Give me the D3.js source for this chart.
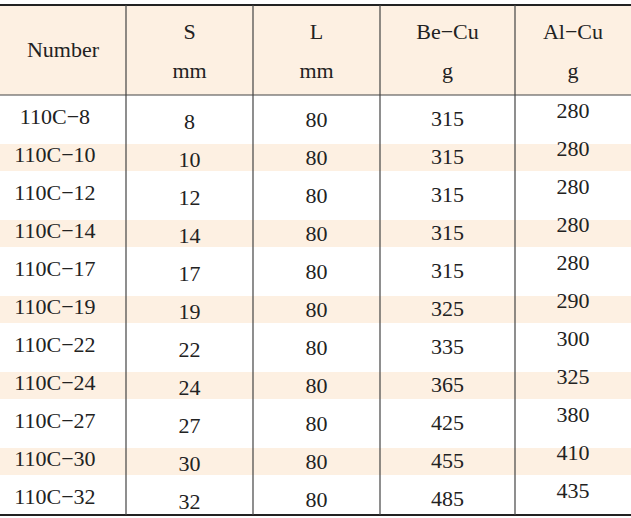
<!DOCTYPE html>
<html><head><meta charset="utf-8">
<script src="https://cdn.jsdelivr.net/npm/d3@7"></script>
<style>body{margin:0;background:#fff}</style></head>
<body><svg id="t"></svg>
<script>
const numbers = ["110C−8","110C−10","110C−12","110C−14","110C−17","110C−19","110C−22","110C−24","110C−27","110C−30","110C−32"];
const sVals = [8,10,12,14,17,19,22,24,27,30,32];
const lVals = [80,80,80,80,80,80,80,80,80,80,80];
const beCu = [315,315,315,315,315,325,335,365,425,455,485];
const alCu = [280,280,280,280,280,290,300,325,380,410,435];
const headers = [["Number"],["S","mm"],["L","mm"],["Be−Cu","g"],["Al−Cu","g"]];

const W = 631, H = 518;
const colEdges = [0,126,253,380,515,631];
const tableTop = 5, headBottom = 95, tableBottom = 515;
const peach = "#fdf0e2", line = "#444";

const svg = d3.select("#t").attr("width", W).attr("height", H)
  .style("font-family", "'Liberation Serif','DejaVu Serif',serif").style("font-size", "22px");

const y = d3.scaleBand().domain(d3.range(numbers.length)).range([headBottom + 2, tableBottom]);
const cx = i => (colEdges[i] + colEdges[i + 1]) / 2;

svg.append("rect").attr("x", 0).attr("y", tableTop).attr("width", W).attr("height", headBottom - tableTop).attr("fill", peach);

svg.selectAll("rect.band").data(d3.range(numbers.length).filter(i => i % 2 === 1)).join("rect")
  .attr("x", 0).attr("y", i => y(i) + 9).attr("width", W).attr("height", y.bandwidth() - 11).attr("fill", peach);

// headers
headers.forEach((h, i) => {
  const t = svg.append("text").attr("text-anchor", "middle").attr("fill", "#222");
  if (h.length === 1) t.attr("x", cx(i)).attr("y", 57).text(h[0]);
  else {
    t.append("tspan").attr("x", cx(i)).attr("y", 39).text(h[0]);
    t.append("tspan").attr("x", cx(i)).attr("y", 78).text(h[1]);
  }
});

const cols = [numbers, sVals, lVals, beCu, alCu];
const offs = [0, 5, 3, 2, -6];
cols.forEach((vals, c) => {
  svg.selectAll(null).data(vals).join("text")
    .attr("x", cx(c) + (c === 0 ? -8 : 0)).attr("y", (d, i) => y(i) + y.bandwidth() / 2 + 8 + offs[c])
    .attr("text-anchor", "middle").attr("fill", "#222").text(d => d);
});

// lines
svg.append("line").attr("x1", 0).attr("x2", W).attr("y1", tableTop).attr("y2", tableTop).attr("stroke", "#222").attr("stroke-width", 2);
svg.append("line").attr("x1", 0).attr("x2", W).attr("y1", headBottom).attr("y2", headBottom).attr("stroke", line).attr("stroke-width", 1.2);
svg.append("line").attr("x1", 0).attr("x2", W).attr("y1", tableBottom).attr("y2", tableBottom).attr("stroke", "#222").attr("stroke-width", 2);
svg.selectAll("line.v").data(colEdges.slice(1, -1)).join("line")
  .attr("x1", d => d).attr("x2", d => d).attr("y1", tableTop).attr("y2", tableBottom).attr("stroke", line).attr("stroke-width", 1.2);
</script></body></html>
